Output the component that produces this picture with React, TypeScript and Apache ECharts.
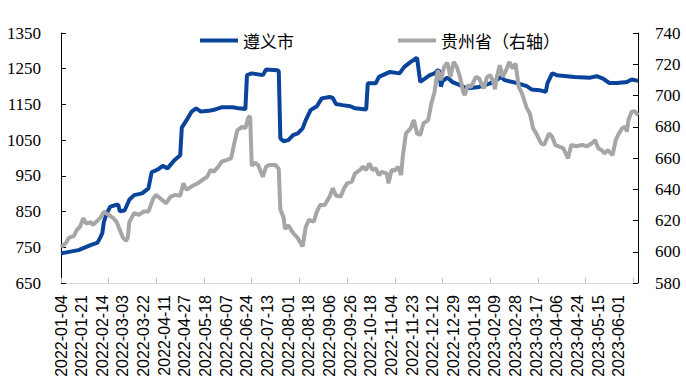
import React, { useEffect, useRef } from "react";
import * as echarts from "echarts";

// Chinese official working days (weekdays minus holidays plus weekend make-up days)
const START_DATE = "2022-01-04";
const DAY_COUNT = 364;
const HOLIDAYS = [
  "2022-01-03", "2022-01-31", "2022-02-01", "2022-02-02", "2022-02-03", "2022-02-04",
  "2022-04-04", "2022-04-05", "2022-05-02", "2022-05-03", "2022-05-04", "2022-06-03",
  "2022-09-12", "2022-10-03", "2022-10-04", "2022-10-05", "2022-10-06", "2022-10-07",
  "2023-01-02", "2023-01-23", "2023-01-24", "2023-01-25", "2023-01-26", "2023-01-27",
  "2023-04-05", "2023-05-01", "2023-05-02", "2023-05-03", "2023-06-22", "2023-06-23",
];
const MAKEUP_DAYS = [
  "2022-01-29", "2022-01-30", "2022-04-02", "2022-04-24", "2022-05-07", "2022-10-08",
  "2022-10-09", "2023-01-28", "2023-01-29", "2023-04-23", "2023-05-06", "2023-06-25",
];

function buildDates(): string[] {
  const out: string[] = [];
  const [y, m, d] = START_DATE.split("-").map(Number);
  let t = Date.UTC(y, m - 1, d);
  while (out.length < DAY_COUNT) {
    const dt = new Date(t);
    const s = dt.toISOString().slice(0, 10);
    const wd = dt.getUTCDay();
    const work = (wd !== 0 && wd !== 6 && !HOLIDAYS.includes(s)) || MAKEUP_DAYS.includes(s);
    if (work) out.push(s);
    t += 86400000;
  }
  return out;
}
const dates = buildDates();

// [working-day index, value]
const zunyi: [number, number][] = [
  [0, 733], [11, 742], [19, 757], [23, 763], [25, 780], [26, 790], [27, 822], [29, 847], [31, 864], [35, 869],
  [36, 869], [37, 851], [40, 853], [43, 883], [46, 896], [51, 901], [55, 915], [57, 960], [61, 968], [64, 978],
  [67, 971], [71, 992], [75, 1008], [76, 1085], [79, 1106], [82, 1129], [85, 1139], [88, 1130], [93, 1132], [97, 1136],
  [101, 1142], [108, 1142], [112, 1139], [116, 1137], [117, 1232], [120, 1237], [127, 1232], [129, 1248], [136, 1246], [137, 1243],
  [138, 1055], [140, 1047], [143, 1050], [146, 1064], [149, 1069], [152, 1083], [154, 1106], [157, 1134], [161, 1145], [164, 1167],
  [169, 1171], [171, 1168], [173, 1151], [177, 1148], [182, 1145], [185, 1139], [192, 1136], [193, 1209], [198, 1209], [200, 1227],
  [207, 1241], [213, 1237], [216, 1255], [220, 1269], [224, 1281], [226, 1213], [232, 1232], [235, 1237], [237, 1246], [238, 1243],
  [239, 1200], [240, 1215], [243, 1225], [245, 1218], [246, 1213], [251, 1204], [255, 1195], [259, 1197], [263, 1199], [270, 1209],
  [274, 1218], [277, 1227], [279, 1218], [284, 1213], [289, 1207], [293, 1201], [296, 1192], [301, 1190], [305, 1185], [306, 1209],
  [309, 1237], [312, 1232], [323, 1227], [333, 1225], [337, 1229], [341, 1222], [345, 1210], [350, 1210], [356, 1213], [359, 1220],
  [363, 1216],
];

const guizhou: [number, number][] = [
  [0, 603], [3, 605.5], [5, 609], [8, 610], [10, 614], [12, 616], [14, 621.5], [16, 618], [19, 619], [20, 617],
  [22, 619], [25, 622], [27, 625.7], [30, 623.5], [33, 621.5], [35, 619], [37, 614], [39, 609], [41, 607], [42, 609],
  [43, 619], [46, 624.7], [49, 623.6], [52, 625.7], [55, 625.7], [58, 634], [60, 636.4], [62, 634.5], [65, 632], [66, 631],
  [69, 635.3], [72, 636.4], [75, 635.8], [77, 643.8], [79, 639.6], [82, 641.7], [86, 643.8], [89, 646], [92, 648], [94, 652.3],
  [96, 651.2], [99, 654.4], [101, 657.6], [104, 658.7], [107, 659.8], [109, 669.4], [111, 677.9], [114, 680], [116, 679], [118, 686.4],
  [119, 686.4], [120, 655], [122, 657], [124, 655.5], [127, 648], [129, 654.4], [131, 655.5], [135, 655.5], [137, 653], [138, 627],
  [140, 622], [141, 614.5], [143, 617], [146, 612], [149, 608.7], [152, 603.4], [154, 616.1], [156, 620.4], [159, 619.3], [161, 625.7],
  [163, 630], [166, 630], [169, 635.3], [171, 640.6], [173, 636], [176, 635.3], [178, 640.6], [180, 643.8], [183, 644.9], [185, 650.2],
  [188, 652.3], [190, 654.4], [192, 652.3], [194, 656.6], [196, 652.3], [198, 653.4], [200, 649.1], [202, 651.2], [205, 650], [206, 643.8],
  [208, 652.3], [210, 652], [212, 654.4], [214, 649.1], [215, 660.8], [217, 675.7], [220, 679], [222, 684.3], [224, 675.7], [226, 674.7],
  [228, 682.1], [231, 684.3], [233, 694.9], [235, 702.3], [237, 716.2], [239, 709.8], [241, 718.3], [243, 721], [245, 711.9], [247, 721.5],
  [249, 718.3], [251, 711.9], [253, 702.3], [254, 700.2], [256, 706.6], [258, 705.5], [261, 711.9], [263, 711], [266, 704.5], [268, 711.9],
  [270, 713], [272, 708.7], [273, 704], [274, 710.9], [276, 719.4], [278, 711.9], [280, 716.2], [282, 721.5], [284, 717.3], [286, 720.4],
  [288, 705.5], [290, 701.3], [293, 692], [295, 688.5], [297, 679], [299, 675.7], [302, 669.4], [304, 668.5], [307, 675.7], [309, 673.6],
  [311, 668.3], [313, 667.5], [316, 666.2], [319, 659.8], [321, 668.3], [324, 667.5], [328, 668.3], [331, 667.5], [334, 669.4], [336, 671.5],
  [338, 666.2], [340, 665.1], [342, 663], [344, 665], [347, 661.9], [349, 671.5], [351, 675.7], [353, 679], [355, 680], [356, 676.8],
  [357, 684.3], [359, 689.6], [361, 690], [363, 687.4],
];

const seriesNames = ["遵义市", "贵州省（右轴）"];
const leftTicks = { min: 650, max: 1350, interval: 100 };
const rightTicks = { min: 580, max: 740, interval: 20 };

export default function App() {
  const ref = useRef<HTMLDivElement>(null);
  useEffect(() => {
    document.body.style.margin = "0";
    if (!ref.current) return;
    const chart = echarts.init(ref.current, null, { renderer: "svg" });
    const serif = "'Liberation Serif', 'Times New Roman', serif";
    const yAxisCommon = {
      type: "value" as const,
      splitLine: { show: false },
      axisLine: { show: true, lineStyle: { color: "#000", width: 1 } },
      axisTick: { show: true, inside: true, length: 5, lineStyle: { color: "#000" } },
    };
    chart.setOption({
      animation: false,
      backgroundColor: "#fff",
      grid: { left: 61, right: 48, top: 33, bottom: 106, containLabel: false },
      legend: {
        top: 27,
        left: 195,
        itemGap: 104,
        itemWidth: 38,
        itemHeight: 4,
        itemTextGap: 5,
        icon: "rect",
        textStyle: { fontSize: 17, color: "#000", fontFamily: "'Noto Sans CJK SC', sans-serif" },
        data: seriesNames,
      },
      xAxis: {
        type: "category",
        boundaryGap: false,
        data: dates,
        axisLine: { show: true, lineStyle: { color: "#d9d9d9", width: 1 } },
        axisTick: { show: true, inside: true, length: 5, interval: 29, lineStyle: { color: "#bfbfbf" } },
        axisLabel: {
          interval: 12,
          rotate: 90,
          margin: 12,
          fontSize: 16,
          color: "#000",
          fontFamily: "'Liberation Sans', Arial, sans-serif",
        },
        splitLine: { show: false },
      },
      yAxis: [
        {
          ...yAxisCommon,
          position: "left",
          min: leftTicks.min,
          max: leftTicks.max,
          interval: leftTicks.interval,
          axisLabel: {
            fontSize: 17,
            color: "#000",
            fontFamily: serif,
            margin: 20,
            formatter: (v: number) => String(v),
          },
        },
        {
          ...yAxisCommon,
          position: "right",
          min: rightTicks.min,
          max: rightTicks.max,
          interval: rightTicks.interval,
          axisLabel: {
            fontSize: 17,
            color: "#000",
            fontFamily: serif,
            margin: 17,
            formatter: (v: number) => String(v),
          },
        },
      ],
      series: [
        {
          name: seriesNames[0],
          type: "line",
          yAxisIndex: 0,
          showSymbol: false,
          symbol: "none",
          data: zunyi.map(([i, v]) => [dates[i], v]),
          lineStyle: { color: "#0a439a", width: 4 },
          itemStyle: { color: "#0a439a" },
        },
        {
          name: seriesNames[1],
          type: "line",
          yAxisIndex: 1,
          showSymbol: false,
          symbol: "none",
          data: guizhou.map(([i, v]) => [dates[i], v]),
          lineStyle: { color: "#a6a6a6", width: 4 },
          itemStyle: { color: "#a6a6a6" },
        },
      ],
    });
    return () => chart.dispose();
  }, []);
  return <div ref={ref} style={{ width: 686, height: 389 }} />;
}
